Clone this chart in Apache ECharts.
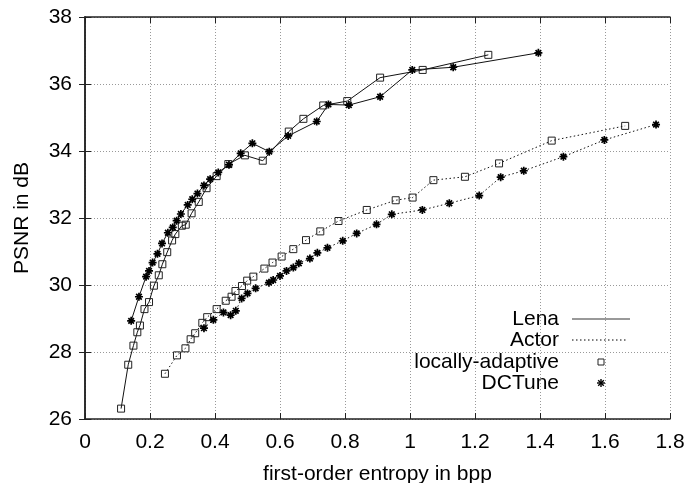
<!DOCTYPE html>
<html>
<head>
<meta charset="utf-8">
<script src="https://cdn.jsdelivr.net/npm/echarts@6/dist/echarts.min.js"></script>
<style>html,body{margin:0;padding:0;background:#fff}#c{width:695px;height:483px}</style>
</head>
<body>
<div id="c"></div>
<script>
// Lena, locally-adaptive (squares, solid)
const lenaLAx = [0.111,0.133,0.149,0.161,0.169,0.183,0.197,0.212,0.227,0.238,0.253,0.268,0.278,0.298,0.31,0.328,0.35,0.374,0.405,0.441,0.492,0.547,0.627,0.672,0.733,0.807,0.908,1.039,1.241];
const lenaLAy = [26.31,27.62,28.19,28.59,28.79,29.28,29.49,29.98,30.29,30.62,30.98,31.33,31.52,31.77,31.80,32.14,32.48,32.89,33.25,33.61,33.87,33.71,34.58,34.96,35.36,35.49,36.19,36.42,36.87];
// Lena, DCTune (stars, solid)
const lenaDCx = [0.142,0.166,0.188,0.197,0.208,0.223,0.237,0.255,0.27,0.282,0.295,0.316,0.33,0.346,0.366,0.385,0.41,0.443,0.479,0.515,0.567,0.625,0.713,0.749,0.812,0.908,1.007,1.133,1.395];
const lenaDCy = [28.93,29.65,30.25,30.42,30.67,30.93,31.24,31.56,31.72,31.92,32.12,32.39,32.56,32.73,32.97,33.16,33.36,33.59,33.93,34.23,33.98,34.45,34.88,35.39,35.37,35.62,36.42,36.50,36.93];
// Actor, locally-adaptive (squares, dotted)
const actorLAx = [0.246,0.283,0.309,0.325,0.339,0.361,0.376,0.405,0.433,0.451,0.463,0.483,0.499,0.518,0.552,0.577,0.605,0.641,0.68,0.724,0.78,0.867,0.956,1.008,1.072,1.169,1.274,1.436,1.662];
const actorLAy = [27.35,27.90,28.11,28.38,28.56,28.87,29.04,29.28,29.53,29.65,29.82,29.97,30.13,30.25,30.49,30.67,30.85,31.07,31.34,31.60,31.91,32.24,32.53,32.61,33.13,33.23,33.63,34.31,34.75];
// Actor, DCTune (stars, dotted)
const actorDCx = [0.366,0.395,0.426,0.448,0.464,0.482,0.5,0.525,0.566,0.579,0.6,0.62,0.641,0.658,0.692,0.715,0.746,0.793,0.836,0.897,0.944,1.038,1.121,1.213,1.279,1.35,1.472,1.598,1.757];
const actorDCy = [28.71,28.96,29.18,29.10,29.23,29.60,29.75,29.90,30.07,30.15,30.27,30.42,30.52,30.65,30.79,30.96,31.11,31.32,31.54,31.81,32.11,32.24,32.44,32.67,33.22,33.41,33.83,34.33,34.79];

const legendLabels = ['Lena','Actor','locally-adaptive','DCTune'];
const xName = 'first-order entropy in bpp';
const yName = 'PSNR in dB';

const FONT = '"Liberation Sans", Arial, Helvetica, sans-serif';
const FS = 21;
const pair = (xs, ys) => xs.map((x, i) => [x, ys[i]]);
const STAR = 'path://M-1,0L1,0M0,-1L0,1M-0.7,-0.7L0.7,0.7M-0.7,0.7L0.7,-0.7';

function mkSeries(name, data, dotted, star) {
  return {
    name, type: 'line', data,
    xAxisIndex: 0, yAxisIndex: 0,
    symbol: star ? STAR : 'rect',
    symbolSize: star ? 8 : 7,
    showAllSymbol: true,
    lineStyle: { color: '#111', width: 1, type: dotted ? [1.5, 2.5] : 'solid' },
    itemStyle: star ? { color: 'transparent', borderColor: '#000', borderWidth: 1.7 }
                    : { color: 'transparent', borderColor: '#222', borderWidth: 1 },
    emphasis: { disabled: true },
    animation: false, z: 3
  };
}

const axisLine = { show: true, lineStyle: { color: '#222', width: 1.5 } };
const tick = { show: true, inside: true, length: 6, lineStyle: { color: '#222', width: 1 } };
const split = { show: true, lineStyle: { color: '#999', width: 1, type: [1, 2] } };
const lbl = { color: '#000', fontSize: FS, fontFamily: FONT };

function legendText(i, y) {
  return { type: 'text', x: 559, y: y, z: 10,
    style: { text: legendLabels[i], fill: '#000', fontSize: FS, fontFamily: FONT, align: 'right', verticalAlign: 'middle' } };
}
function seg(x1, y1, x2, y2, style) {
  return { type: 'line', z: 10, shape: { x1, y1, x2, y2 }, style };
}
const starStyle = { stroke: '#000', lineWidth: 1.4 };

const chart = echarts.init(document.getElementById('c'));
chart.setOption({
  animation: false,
  grid: { left: 85, right: 25, top: 17, bottom: 64, containLabel: false, outerBoundsMode: 'none' },
  xAxis: [
    { type: 'value', min: 0, max: 1.8, interval: 0.2, position: 'bottom',
      axisLine, axisTick: tick, splitLine: split,
      axisLabel: Object.assign({ margin: 13 }, lbl),
      name: xName, nameLocation: 'middle', nameGap: 45,
      nameTextStyle: { color: '#000', fontSize: FS, fontFamily: FONT } },
    { type: 'value', min: 0, max: 1.8, interval: 0.2, position: 'top',
      axisLine, axisTick: tick, splitLine: { show: false }, axisLabel: { show: false } }
  ],
  yAxis: [
    { type: 'value', min: 26, max: 38, interval: 2, position: 'left',
      axisLine, axisTick: tick, splitLine: split,
      axisLabel: Object.assign({ margin: 13 }, lbl),
      name: yName, nameLocation: 'middle', nameGap: 52,
      nameTextStyle: { color: '#000', fontSize: FS, fontFamily: FONT } },
    { type: 'value', min: 26, max: 38, interval: 2, position: 'right',
      axisLine, axisTick: tick, splitLine: { show: false }, axisLabel: { show: false } }
  ],
  series: [
    mkSeries('Lena locally-adaptive', pair(lenaLAx, lenaLAy), false, false),
    mkSeries('Lena DCTune', pair(lenaDCx, lenaDCy), false, true),
    mkSeries('Actor locally-adaptive', pair(actorLAx, actorLAy), true, false),
    mkSeries('Actor DCTune', pair(actorDCx, actorDCy), true, true)
  ],
  graphic: [
    legendText(0, 319), legendText(1, 340), legendText(2, 362), legendText(3, 383),
    seg(572, 319, 630, 319, { stroke: '#999', lineWidth: 2 }),
    seg(572, 340, 628, 340, { stroke: '#000', lineWidth: 1, lineDash: [1.5, 2.5] }),
    { type: 'rect', z: 10, shape: { x: 598, y: 359, width: 6, height: 6 }, style: { stroke: '#222', fill: 'transparent', lineWidth: 1 } },
    seg(597, 383, 605, 383, starStyle),
    seg(601, 379, 601, 387, starStyle),
    seg(598.2, 380.2, 603.8, 385.8, starStyle),
    seg(598.2, 385.8, 603.8, 380.2, starStyle)
  ]
});
</script>
</body>
</html>
